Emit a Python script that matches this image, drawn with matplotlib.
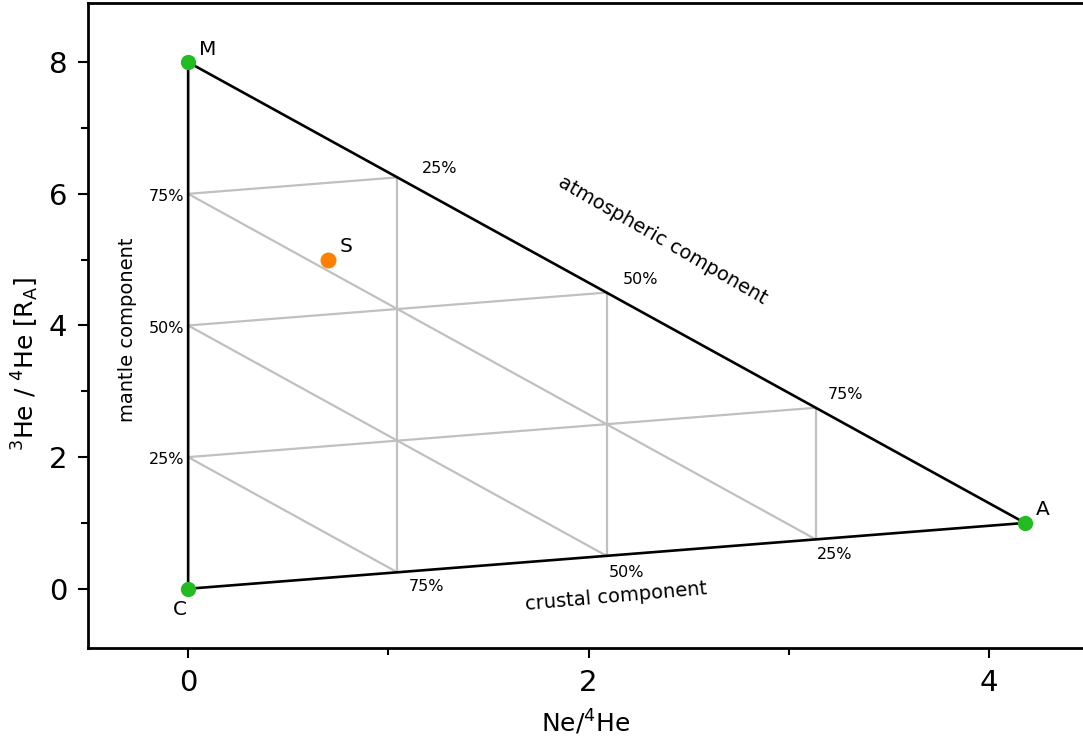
import numpy as np
import matplotlib
matplotlib.use("Agg")
import matplotlib.pyplot as plt

# end members of the mixing triangle (Ne/4He, 3He/4He in R_A)
names = ["M", "C", "A"]
ne_he = [0.0, 0.0, 4.18]
he_ratio = [8.0, 0.0, 1.0]

# sample
sample_name = "S"
sample_x = [0.7]
sample_y = [5.0]

# mixing fractions for the grid
fractions = [0.25, 0.50, 0.75]
pct_labels = ["25%", "50%", "75%"]

plt.rcParams["font.family"] = ["DejaVu Sans"]

fig = plt.figure(figsize=(10.83, 7.42), dpi=100)
ax = fig.add_axes([0.0813, 0.1267, 0.9187, 0.8693])

M = np.array([ne_he[0], he_ratio[0]])
C = np.array([ne_he[1], he_ratio[1]])
A = np.array([ne_he[2], he_ratio[2]])

grey = "#c0c0c0"
for f in fractions:
    # constant mantle fraction
    p, q = f * M + (1 - f) * C, f * M + (1 - f) * A
    ax.plot([p[0], q[0]], [p[1], q[1]], color=grey, lw=1.6, zorder=1)
    # constant atmospheric fraction
    p, q = f * A + (1 - f) * M, f * A + (1 - f) * C
    ax.plot([p[0], q[0]], [p[1], q[1]], color=grey, lw=1.6, zorder=1)
    # constant crustal fraction
    p, q = f * C + (1 - f) * M, f * C + (1 - f) * A
    ax.plot([p[0], q[0]], [p[1], q[1]], color=grey, lw=1.6, zorder=1)

# triangle
ax.plot(ne_he + [ne_he[0]], he_ratio + [he_ratio[0]], color="black", lw=1.9, zorder=2)

# end members and sample
ax.plot(ne_he, he_ratio, "o", color="#22bb22", ms=11, mec="none", zorder=3)
ax.plot(sample_x, sample_y, "o", color="#ff8000", ms=11.5, mec="none", zorder=3)

name_offsets = {"M": (8, 2.5, "left", "bottom"),
                "C": (-6, -8, "center", "top"),
                "A": (8, 3, "left", "bottom")}
for n, x, y in zip(names, ne_he, he_ratio):
    dx, dy, ha, va = name_offsets[n]
    ax.annotate(n, (x, y), xytext=(dx, dy), textcoords="offset points",
                ha=ha, va=va, fontsize=14.5)
ax.annotate(sample_name, (sample_x[0], sample_y[0]), xytext=(8.5, 2.5),
            textcoords="offset points", ha="left", va="bottom", fontsize=14.5)

# percentage labels along the sides
ma_off = [(18, 1), (12, 4), (9, 4)]
ca_off = [(8.5, -5), (1.5, -6.5), (1, -5.5)]
for i, f in enumerate(fractions):
    # mantle side (C-M)
    p = f * M + (1 - f) * C
    ax.annotate(pct_labels[i], p, xytext=(-3, -2), textcoords="offset points",
                ha="right", va="center", fontsize=11.5)
    # atmospheric side (M-A)
    p = f * A + (1 - f) * M
    ax.annotate(pct_labels[i], p, xytext=ma_off[i], textcoords="offset points",
                ha="left", va="bottom", fontsize=11.5)
    # crustal side (C-A), fraction of crust
    p = (1 - f) * C + f * A
    ax.annotate(pct_labels[2 - i], p, xytext=ca_off[i], textcoords="offset points",
                ha="left", va="top", fontsize=11.5)

ax.text(-0.305, 3.93, "mantle component", rotation=90, ha="center", va="center", fontsize=14)
ax.text(2.37, 5.3, "atmospheric component", rotation=-30, ha="center", va="center",
        fontsize=14, rotation_mode="anchor")
ax.text(2.14, -0.12, "crustal component", rotation=5, ha="center", va="center",
        fontsize=14, rotation_mode="anchor")

ax.set_xlim(-0.5, 4.47)
ax.set_ylim(-0.9, 8.9)
ax.set_xticks([0, 2, 4])
ax.set_xticks([1, 3], minor=True)
ax.set_yticks([0, 2, 4, 6, 8])
ax.set_yticks([1, 3, 5, 7], minor=True)
ax.tick_params(which="major", length=7, width=1.5, labelsize=21, pad=8)
ax.tick_params(which="minor", length=5, width=1.5)

for s in ["left", "top", "bottom"]:
    ax.spines[s].set_linewidth(2)
ax.spines["right"].set_visible(False)

ax.set_xlabel(r"Ne/$^{4}$He", fontsize=18, labelpad=8)
ax.set_ylabel(r"$^{3}$He / $^{4}$He [R$_{\mathrm{A}}$]", fontsize=18)
ax.yaxis.set_label_coords(-0.047, 0.44)

fig.savefig("out.png", dpi=100)
